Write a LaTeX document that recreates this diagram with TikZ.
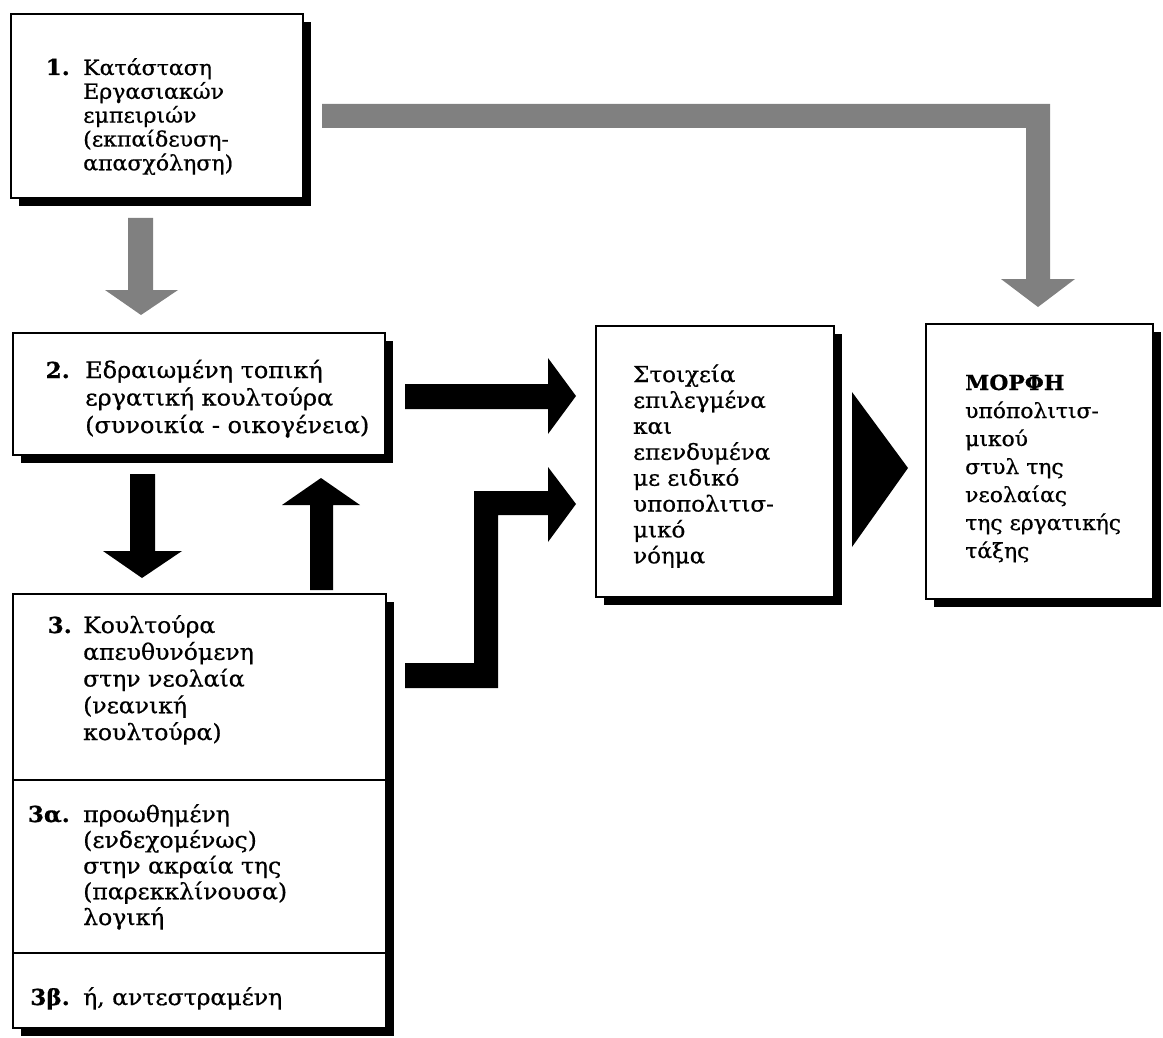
\documentclass[tikz,border=0pt]{standalone}
\usepackage{fontspec}
\setmainfont{DejaVu Serif}[FakeStretch=1.05,FakeBold=0.7]
\usetikzlibrary{shadows}
\newcommand\mlines[1]{\begin{tabular}[t]{@{}l@{}}#1\end{tabular}}
\begin{document}
\begin{tikzpicture}[x=1pt,y=-1pt,
  box/.style={draw, line width=1.8pt, fill=white, anchor=north west, inner sep=0pt,
    general shadow={fill=black, shadow xshift=8pt, shadow yshift=-8pt}},
  txt/.style={anchor=base west, inner sep=0pt},
  num/.style={anchor=base east, inner sep=0pt, font=\fontsize{22}{27}\selectfont\bfseries},
  grayarrow/.style={fill=black!50},
  blackarrow/.style={fill=black},
  divider/.style={line width=1.5pt}]
\useasboundingbox (0,0) rectangle (1163,1038);

% boxes
\node[box, minimum width=292pt, minimum height=184pt] (b1) at (10,13) {};
\node[box, minimum width=372pt, minimum height=122pt] (b2) at (12,332) {};
\node[box, minimum width=373pt, minimum height=434pt] (b3) at (12,593) {};
\node[box, minimum width=238pt, minimum height=271pt] (mid) at (595,325) {};
\node[box, minimum width=227pt, minimum height=275pt] (res) at (925,323) {};

% dividers in box 3
\coordinate (d1) at (0,780);
\coordinate (d2) at (0,953);
\draw[divider] (b3.west |- d1) -- (b3.east |- d1);
\draw[divider] (b3.west |- d2) -- (b3.east |- d2);

% texts
\node[num] (n1) at (70,75) {1.};
\node[txt, font=\fontsize{21}{23.4}\selectfont] (t1) at (83,75) {\mlines{Κατάσταση\\Εργασιακών\\εμπειριών\\(εκπαίδευση-\\απασχόληση)}};
\node[num] (n2) at (70,378) {2.};
\node[txt, font=\fontsize{22.8}{27.5}\selectfont] (t2) at (85,378) {\mlines{Εδραιωμένη τοπική\\εργατική κουλτούρα\\(συνοικία - οικογένεια)}};
\node[num] (n3) at (72,633) {3.};
\node[txt, font=\fontsize{22.4}{26.75}\selectfont] (t3) at (83,633) {\mlines{Κουλτούρα\\απευθυνόμενη\\στην νεολαία\\(νεανική\\κουλτούρα)}};
\node[num] (n3a) at (70,822) {3α.};
\node[txt, font=\fontsize{22.4}{25.75}\selectfont] (t3a) at (83,822) {\mlines{προωθημένη\\(ενδεχομένως)\\στην ακραία της\\(παρεκκλίνουσα)\\λογική}};
\node[num] (n3b) at (70,1005) {3β.};
\node[txt, font=\fontsize{22.4}{26}\selectfont] (t3b) at (83,1005) {ή, αντεστραμένη};
\node[txt, font=\fontsize{21.9}{25.9}\selectfont] (tm) at (633,382) {\mlines{Στοιχεία\\επιλεγμένα\\και\\επενδυμένα\\με ειδικό\\υποπολιτισ-\\μικό\\νόημα}};
\node[txt, font=\fontsize{20.8}{28}\selectfont] (tr) at (965,390) {\mlines{\textbf{ΜΟΡΦΗ}\\υπόπολιτισ-\\μικού\\στυλ της\\νεολαίας\\της εργατικής\\τάξης}};

% gray arrows
\fill[grayarrow] (128,218) -- (153,218) -- (153,290) -- (178,290) -- (141,315) -- (105,290) -- (128,290) -- cycle;
\fill[grayarrow] (322,104) -- (1050,104) -- (1050,279) -- (1075,279) -- (1038,307) -- (1001,279) -- (1026,279) -- (1026,128) -- (322,128) -- cycle;

% black arrows
\fill[blackarrow] (130,474) -- (155,474) -- (155,551) -- (182,551) -- (142,578) -- (103,551) -- (130,551) -- cycle;
\fill[blackarrow] (310,590) -- (333,590) -- (333,505) -- (360,505) -- (321,478) -- (282,505) -- (310,505) -- cycle;
\fill[blackarrow] (405,384) -- (548,384) -- (548,358) -- (576,396) -- (548,434) -- (548,409) -- (405,409) -- cycle;
\fill[blackarrow] (405,663) -- (474,663) -- (474,491) -- (548,491) -- (548,467) -- (576,504) -- (548,542) -- (548,515) -- (498,515) -- (498,688) -- (405,688) -- cycle;
\fill[blackarrow] (852,392) -- (908,468) -- (852,547) -- cycle;
\end{tikzpicture}
\end{document}
